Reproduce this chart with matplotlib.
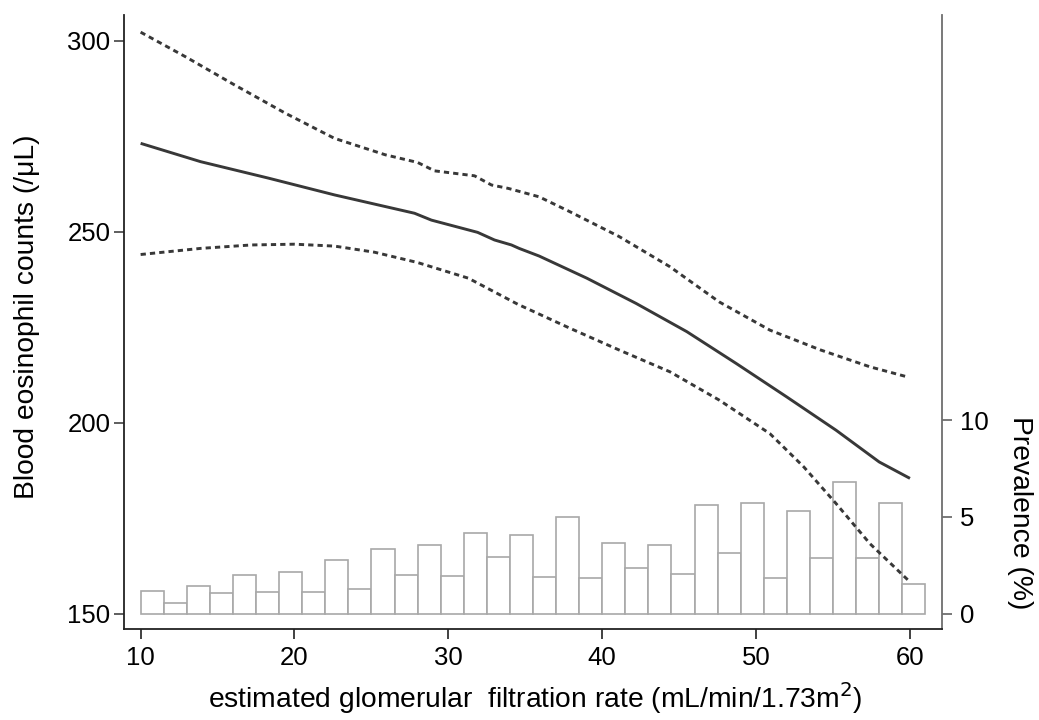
import numpy as np
import matplotlib
matplotlib.use("Agg")
import matplotlib.pyplot as plt

plt.rcParams['font.family'] = ['Liberation Sans', 'DejaVu Sans']

# ---- data ----
egfr_fit = [10.0, 13.9, 18.3, 22.6, 27.8, 28.9, 31.9, 33.0, 34.1, 34.6, 35.9,
            39.0, 42.2, 45.5, 48.7, 52.0, 55.2, 58.0, 60.0]
eos_fit = [273.1, 268.3, 264.0, 259.6, 254.8, 253.0, 249.8, 247.8, 246.5, 245.6, 243.6,
           237.8, 231.2, 223.8, 215.5, 206.7, 198.0, 189.7, 185.4]

egfr_upper = [10.0, 12.9, 16.1, 19.4, 22.6, 25.9, 28.0, 29.1, 31.7, 32.8, 33.9,
              35.9, 37.9, 41.1, 44.4, 47.6, 50.9, 54.2, 57.4, 59.8]
eos_upper = [302.2, 295.8, 288.4, 281.0, 274.4, 270.1, 268.1, 265.9, 264.6, 262.2, 261.3,
             259.1, 255.2, 248.7, 240.8, 231.6, 224.2, 219.0, 214.6, 212.0]

egfr_lower = [10.0, 13.9, 17.2, 20.0, 22.6, 25.2, 28.0, 31.3, 34.5, 37.9,
              41.1, 44.4, 47.6, 50.9, 53.1, 55.2, 57.4, 60.0]
eos_lower = [244.0, 245.6, 246.5, 246.7, 246.2, 244.6, 241.9, 237.8, 231.0, 224.7,
             219.0, 213.3, 205.9, 197.1, 188.4, 178.8, 168.3, 158.3]

prevalence = [1.19, 0.53, 1.45, 1.05, 2.02, 1.12, 2.14, 1.14, 2.79, 1.29,
              3.34, 1.98, 3.55, 1.95, 4.17, 2.91, 4.05, 1.91, 4.97, 1.86,
              3.65, 2.38, 3.53, 2.07, 5.60, 3.13, 5.71, 1.86, 5.29, 2.90,
              6.78, 2.85, 5.71, 1.52]
bin_start = 10
bin_width = 1.5

x_ticks = [10, 20, 30, 40, 50, 60]
left_ticks = [150, 200, 250, 300]
right_ticks = [0, 5, 10]

# ---- figure ----
fig = plt.figure(figsize=(10.39, 7.2), dpi=100)
ax = fig.add_axes([0.1198, 0.1260, 0.9069 - 0.1198, 0.9792 - 0.1260])
ax2 = ax.twinx()

# bars on the right axis
lefts = bin_start + bin_width * np.arange(len(prevalence))
ax2.bar(lefts, prevalence, width=bin_width, align='edge', facecolor='white',
        edgecolor='#a8a8a8', linewidth=1.2)

# curves on the left axis (drawn on top)
ax.set_zorder(ax2.get_zorder() + 1)
ax.patch.set_visible(False)
line_col = '#383838'
ax.plot(egfr_fit, eos_fit, color=line_col, lw=2.1, solid_capstyle='butt',
        solid_joinstyle='round')
ax.plot(egfr_upper, eos_upper, color=line_col, lw=2.1, dashes=(1.8, 1.4))
ax.plot(egfr_lower, eos_lower, color=line_col, lw=2.1, dashes=(1.8, 1.4))

ax.set_xlim(8.95, 62.1)
ax.set_ylim(145.9, 306.7)
ax2.set_ylim(-0.81, 30.95)

ax.set_xticks(x_ticks)
ax.set_yticks(left_ticks)
ax2.set_yticks(right_ticks)

for a in (ax, ax2):
    a.spines['top'].set_visible(False)

ax.spines['left'].set_color('#222222')
ax.spines['bottom'].set_color('#222222')
ax.spines['left'].set_linewidth(1.3)
ax.spines['bottom'].set_linewidth(1.3)
ax.spines['right'].set_visible(False)
ax2.spines['left'].set_visible(False)
ax2.spines['bottom'].set_visible(False)
ax2.spines['right'].set_color('#6e6e6e')
ax2.spines['right'].set_linewidth(1.3)

ax.tick_params(axis='x', direction='out', length=7, width=1.3, color='#333333',
               labelsize=18.5, pad=5)
ax.tick_params(axis='y', direction='out', length=7, width=1.1, color='#333333',
               labelsize=18.5, pad=3)
ax2.tick_params(axis='y', direction='out', length=7, width=1.1, color='#555555',
                labelsize=18.5, pad=6)

fig.text(0.5154, 0.031, 'estimated glomerular  filtration rate (mL/min/1.73m$^{2}$)',
         ha='center', va='center', fontsize=20.3)
fig.text(0.026, 0.56, 'Blood eosinophil counts (/\u03bcL)', rotation=90,
         ha='center', va='center', fontsize=20.3)
fig.text(0.982, 0.288, 'Prevalence (%)', rotation=270,
         ha='center', va='center', fontsize=20.3)

fig.savefig('out.png', dpi=100)
